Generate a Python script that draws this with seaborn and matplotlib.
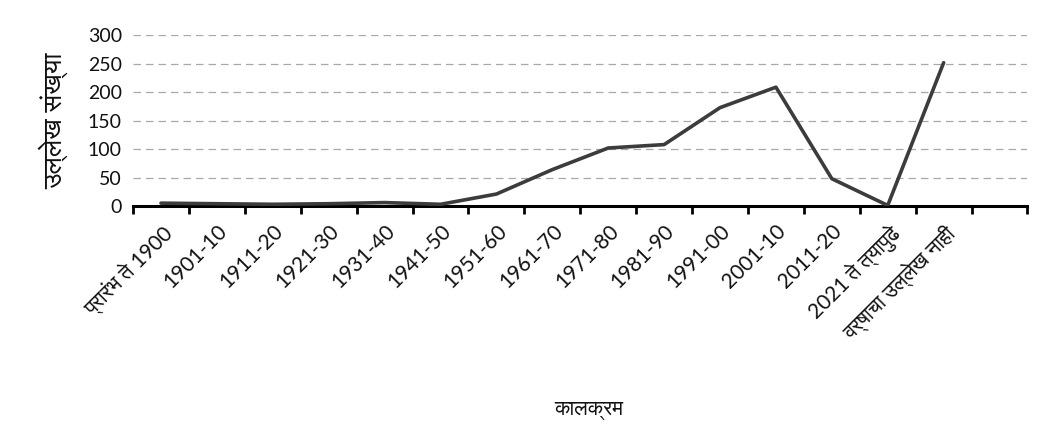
import numpy as np
import pandas as pd
import matplotlib
matplotlib.use("Agg")
import matplotlib.pyplot as plt
from matplotlib import font_manager
import seaborn as sns

# ---- data ----
categories = ["प्रारंभ ते 1900", "1901-10", "1911-20", "1921-30", "1931-40",
              "1941-50", "1951-60", "1961-70", "1971-80", "1981-90",
              "1991-00", "2001-10", "2011-20", "2021 ते त्यापुढे",
              "वर्षाचा उल्लेख नाही", ""]
counts = [5, 4, 3, 4, 6, 3, 21, 64, 102, 108, 173, 209, 48, 1, 252, np.nan]
y_ticks = [0, 50, 100, 150, 200, 250, 300]
x_title = "कालक्रम"
y_title = "उल्लेख संख्या"

# ---- find a font with Devanagari glyphs, if any ----
def find_devanagari():
    try:
        from fontTools.ttLib import TTFont
    except Exception:
        return None
    best = None
    for f in font_manager.fontManager.ttflist:
        try:
            tt = TTFont(f.fname, fontNumber=0, lazy=True)
            cmap = tt.getBestCmap() or {}
            if ord("क") in cmap and ord("्") in cmap:
                name = f.name
                if best is None or "Sans" in name:
                    best = name
                    if "Sans" in name:
                        break
        except Exception:
            continue
    return best

sns.set_theme(style="white")
dev = find_devanagari()
families = ["Lato"] + ([dev] if dev else []) + ["DejaVu Sans"]
plt.rcParams["font.family"] = families

df = pd.DataFrame({"pos": np.arange(len(categories)), "count": counts})

fig = plt.figure(figsize=(10.56, 4.43), dpi=100)
ax = fig.add_axes([0.126, 0.535, 0.847, 0.385])

sns.lineplot(data=df, x="pos", y="count", ax=ax, color="#3c3c3c",
             linewidth=2.6, zorder=3)

ax.set_xlim(-0.5, len(categories) - 0.5)
ax.set_ylim(0, 300)
ax.set_yticks(y_ticks)
ax.set_yticklabels([str(v) for v in y_ticks], fontsize=14, color="#111111")

# gridlines
for v in y_ticks[1:]:
    ax.axhline(v, color="#a8a8a8", linewidth=0.9, linestyle=(0, (6, 4)), zorder=1)

# x axis: labels at centres, tick marks at boundaries
ax.set_xticks(np.arange(len(categories)))
ax.set_xticklabels(categories, rotation=45, ha="right", rotation_mode="anchor",
                   fontsize=15, color="#111111")
ax.set_xticks(np.arange(len(categories) + 1) - 0.5, minor=True)
ax.tick_params(axis="x", which="major", length=0, pad=11)
ax.tick_params(axis="x", which="minor", length=6, width=2, color="black",
               direction="out", bottom=True)
ax.tick_params(axis="y", length=0, pad=8)

for s in ["top", "right", "left"]:
    ax.spines[s].set_visible(False)
ax.spines["bottom"].set_color("black")
ax.spines["bottom"].set_linewidth(2.2)

ax.set_xlabel("")
ax.set_ylabel(y_title, fontsize=19, color="#111111", labelpad=14)
fig.text(0.558, 0.065, x_title, fontsize=15, color="#111111", ha="center")

fig.savefig("out.png", dpi=100, facecolor="white")
